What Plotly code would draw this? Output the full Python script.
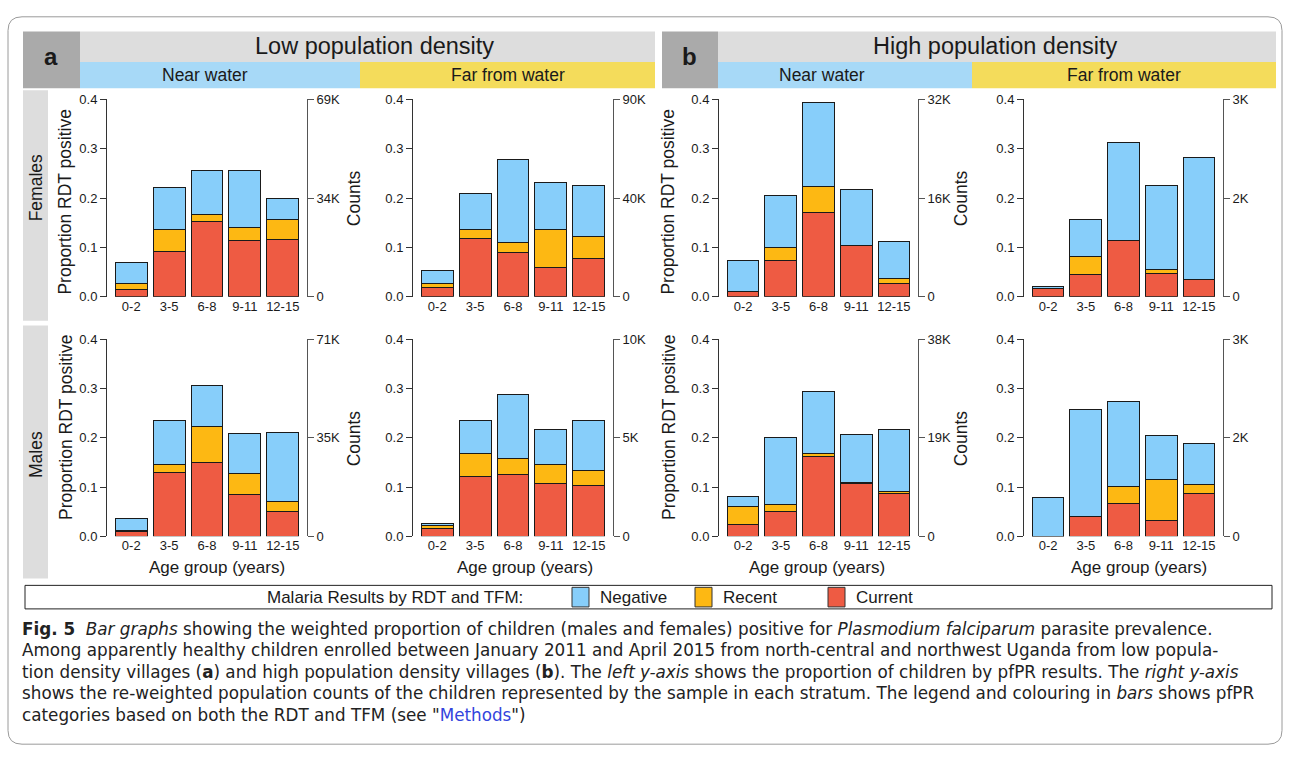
import plotly.graph_objects as go

# ---------------- data ----------------
age_groups = ["0-2", "3-5", "6-8", "9-11", "12-15"]
series_names = ["Negative", "Recent", "Current"]
legend_title = "Malaria Results by RDT and TFM:"

# (a) Low population density - Near water - Females
low_near_fem_current = [0.015, 0.091, 0.152, 0.114, 0.116]
low_near_fem_recent = [0.012, 0.045, 0.014, 0.026, 0.041]
low_near_fem_negative = [0.042, 0.086, 0.090, 0.117, 0.042]
low_near_fem_counts = ["0", "34K", "69K"]
# (a) Low population density - Far from water - Females
low_far_fem_current = [0.019, 0.118, 0.089, 0.059, 0.077]
low_far_fem_recent = [0.009, 0.018, 0.022, 0.078, 0.045]
low_far_fem_negative = [0.026, 0.073, 0.168, 0.095, 0.103]
low_far_fem_counts = ["0", "40K", "90K"]
# (b) High population density - Near water - Females
high_near_fem_current = [0.011, 0.074, 0.170, 0.104, 0.028]
high_near_fem_recent = [0.0, 0.026, 0.053, 0.0, 0.009]
high_near_fem_negative = [0.063, 0.105, 0.170, 0.113, 0.075]
high_near_fem_counts = ["0", "16K", "32K"]
# (b) High population density - Far from water - Females
high_far_fem_current = [0.016, 0.046, 0.114, 0.048, 0.036]
high_far_fem_recent = [0.0, 0.036, 0.0, 0.008, 0.0]
high_far_fem_negative = [0.006, 0.075, 0.199, 0.170, 0.246]
high_far_fem_counts = ["0", "2K", "3K"]
# (a) Low population density - Near water - Males
low_near_male_current = [0.009, 0.129, 0.149, 0.084, 0.051]
low_near_male_recent = [0.003, 0.017, 0.073, 0.043, 0.019]
low_near_male_negative = [0.025, 0.090, 0.085, 0.081, 0.141]
low_near_male_counts = ["0", "35K", "71K"]
# (a) Low population density - Far from water - Males
low_far_male_current = [0.015, 0.122, 0.126, 0.107, 0.104]
low_far_male_recent = [0.008, 0.047, 0.032, 0.038, 0.029]
low_far_male_negative = [0.004, 0.067, 0.129, 0.071, 0.103]
low_far_male_counts = ["0", "5K", "10K"]
# (b) High population density - Near water - Males
high_near_male_current = [0.024, 0.050, 0.162, 0.107, 0.087]
high_near_male_recent = [0.036, 0.014, 0.006, 0.003, 0.004]
high_near_male_negative = [0.021, 0.137, 0.126, 0.096, 0.126]
high_near_male_counts = ["0", "19K", "38K"]
# (b) High population density - Far from water - Males
high_far_male_current = [0.0, 0.040, 0.066, 0.033, 0.088]
high_far_male_recent = [0.0, 0.0, 0.035, 0.082, 0.017]
high_far_male_negative = [0.078, 0.217, 0.172, 0.089, 0.084]
high_far_male_counts = ["0", "2K", "3K"]

prop_ticks = [0.0, 0.1, 0.2, 0.3, 0.4]
count_tick_pos = [0.0, 0.2, 0.4]

# ---------------- style ----------------
W, H = 1290, 761
FONT = "Liberation Sans, Arial, Helvetica, sans-serif"
CAP_FONT = "DejaVu Sans, Liberation Sans, sans-serif"
COL_NEG = "#87CEFA"
COL_REC = "#FDB813"
COL_CUR = "#EE5B43"
series_colors = {"Negative": COL_NEG, "Recent": COL_REC, "Current": COL_CUR}
TXT = "#1a1a1a"


def fx(px):
    return px / W


def fy(py):
    return 1 - py / H


panels = [
    (low_near_fem_current, low_near_fem_recent, low_near_fem_negative, low_near_fem_counts),
    (low_far_fem_current, low_far_fem_recent, low_far_fem_negative, low_far_fem_counts),
    (high_near_fem_current, high_near_fem_recent, high_near_fem_negative, high_near_fem_counts),
    (high_far_fem_current, high_far_fem_recent, high_far_fem_negative, high_far_fem_counts),
    (low_near_male_current, low_near_male_recent, low_near_male_negative, low_near_male_counts),
    (low_far_male_current, low_far_male_recent, low_far_male_negative, low_far_male_counts),
    (high_near_male_current, high_near_male_recent, high_near_male_negative, high_near_male_counts),
    (high_far_male_current, high_far_male_recent, high_far_male_negative, high_far_male_counts),
]

cols_px = [(107, 307), (413, 613), (719, 918), (1024, 1223)]
rows_px = [(94.3, 295.7), (339, 540)]

fig = go.Figure()
layout = {}

for k, (cur, rec, neg, cnt) in enumerate(panels):
    r, c = divmod(k, 4)
    n = k + 1
    xref = "x" if n == 1 else f"x{n}"
    yref = "y" if n == 1 else f"y{n}"
    y2ref = f"y{n + 8}"
    for name, vals in (("Current", cur), ("Recent", rec), ("Negative", neg)):
        fig.add_trace(go.Bar(
            x=age_groups, y=vals, name=name, width=0.84,
            marker=dict(color=series_colors[name], line=dict(color="#1a1a1a", width=1)),
            xaxis=xref, yaxis=yref, showlegend=False,
        ))
    fig.add_trace(go.Scatter(
        x=[age_groups[0]], y=[0], mode="markers", marker=dict(opacity=0),
        xaxis=xref, yaxis=y2ref, showlegend=False, hoverinfo="skip",
    ))
    c0, c1 = cols_px[c]
    r0, r1 = rows_px[r]
    layout["xaxis" if n == 1 else f"xaxis{n}"] = dict(
        domain=[fx(c0), fx(c1)], anchor=yref, type="category",
        range=[-0.64, 4.64], showline=False, ticks="", showgrid=False,
        zeroline=False, tickfont=dict(size=13, color=TXT, family=FONT),
        fixedrange=True,
    )
    layout["yaxis" if n == 1 else f"yaxis{n}"] = dict(
        domain=[fy(r1), fy(r0)], anchor=xref, range=[0, 0.4],
        tickvals=prop_ticks, ticktext=[f"{v:.1f}" for v in prop_ticks],
        ticks="outside", ticklen=6, tickcolor="#333", showline=True,
        linecolor="#333", linewidth=1, showgrid=False, zeroline=False,
        tickfont=dict(size=13, color=TXT, family=FONT), fixedrange=True,
    )
    layout[f"yaxis{n + 8}"] = dict(
        overlaying=yref, side="right", anchor=xref, range=[0, 0.4],
        tickvals=count_tick_pos, ticktext=cnt,
        ticks="outside", ticklen=6, tickcolor="#555", showline=True,
        linecolor="#555", linewidth=1, showgrid=False, zeroline=False,
        tickfont=dict(size=13, color=TXT, family=FONT), fixedrange=True,
    )

shapes = []
annotations = []


def rect(x0, y0, x1, y1, fill, line=None):
    shapes.append(dict(
        type="rect", xref="paper", yref="paper",
        x0=fx(x0), x1=fx(x1), y0=fy(y1), y1=fy(y0),
        fillcolor=fill, line=dict(width=1 if line else 0, color=line or fill),
        layer="below",
    ))


def text(t, x, y, size, angle=0, xanchor="center", color=TXT, family=FONT):
    annotations.append(dict(
        text=t, x=fx(x), y=fy(y), xref="paper", yref="paper",
        showarrow=False, textangle=angle, xanchor=xanchor, yanchor="middle",
        font=dict(size=size, color=color, family=family),
    ))


# outer rounded frame
fx0, fy0, fx1, fy1, rr = 8, 10, 1282, 752, 14
path = (f"M {fx(fx0 + rr)},{fy(fy0)} L {fx(fx1 - rr)},{fy(fy0)} "
        f"Q {fx(fx1)},{fy(fy0)} {fx(fx1)},{fy(fy0 + rr)} "
        f"L {fx(fx1)},{fy(fy1 - rr)} Q {fx(fx1)},{fy(fy1)} {fx(fx1 - rr)},{fy(fy1)} "
        f"L {fx(fx0 + rr)},{fy(fy1)} Q {fx(fx0)},{fy(fy1)} {fx(fx0)},{fy(fy1 - rr)} "
        f"L {fx(fx0)},{fy(fy0 + rr)} Q {fx(fx0)},{fy(fy0)} {fx(fx0 + rr)},{fy(fy0)} Z")
shapes.append(dict(type="path", path=path, xref="paper", yref="paper",
                   line=dict(color="#9a9a9a", width=1), layer="below"))

# headers
rect(23, 25, 80, 83, "#AAAAAA")
rect(80, 25, 655, 56, "#DDDDDD")
rect(80, 56, 360, 83, "#A7D9F7")
rect(360, 56, 655, 83, "#F4DC5B")
rect(662, 25, 718, 83, "#AAAAAA")
rect(718, 25, 1276, 56, "#DDDDDD")
rect(718, 56, 972, 83, "#A7D9F7")
rect(972, 56, 1276, 83, "#F4DC5B")
text("<b>a</b>", 51, 50, 24)
text("<b>b</b>", 690, 50, 24)
text("Low population density", 374, 40, 23.5)
text("High population density", 995, 40, 23.5)
text("Near water", 205, 69.5, 17.5)
text("Far from water", 508, 69.5, 17.5)
text("Near water", 822, 69.5, 17.5)
text("Far from water", 1124, 69.5, 17.5)

# row strips
rect(23, 85, 48, 320, "#DDDDDD")
rect(23, 325, 48, 583, "#DDDDDD")
text("Females", 36, 185, 17.5, angle=-90)
text("Males", 36, 457, 17.5, angle=-90)

# axis titles
for yc in (199, 429):
    text("Proportion RDT positive", 65.5, yc, 17.5, angle=-90)
    text("Proportion RDT positive", 668.5, yc, 17.5, angle=-90)
for yc in (195, 440):
    text("Counts", 354, yc, 17.5, angle=-90)
    text("Counts", 961, yc, 17.5, angle=-90)
for xc in (217, 525, 817, 1139):
    text("Age group (years)", xc, 572, 17)

# legend box
rect(25, 590, 1272, 614, "rgba(0,0,0,0)", line="#222")
text(legend_title, 395, 602, 17)
legend_pos = {"Negative": 572, "Recent": 695, "Current": 828}
for name in series_names:
    x0 = legend_pos[name]
    shapes.append(dict(type="rect", xref="paper", yref="paper",
                       x0=fx(x0), x1=fx(x0 + 17), y0=fy(612), y1=fy(592),
                       fillcolor=series_colors[name], line=dict(color="#333", width=1)))
    text(name, x0 + 26, 602, 17, xanchor="left")

# caption
cap = [
    "<b>Fig. 5</b>  <i>Bar graphs</i> showing the weighted proportion of children (males and females) positive for <i>Plasmodium falciparum</i> parasite prevalence.",
    "Among apparently healthy children enrolled between January 2011 and April 2015 from north-central and northwest Uganda from low popula-",
    "tion density villages (<b>a</b>) and high population density villages (<b>b</b>). The <i>left y-axis</i> shows the proportion of children by pfPR results. The <i>right y-axis</i>",
    "shows the re-weighted population counts of the children represented by the sample in each stratum. The legend and colouring in <i>bars</i> shows pfPR",
    "categories based on both the RDT and TFM (see \"<span style='color:#3344dd'>Methods</span>\")",
]
for i, line in enumerate(cap):
    text(line, 20, 634 + 22 * i, 16.8, xanchor="left", color="#222", family=CAP_FONT)

fig.update_layout(
    width=W, height=H, margin=dict(l=0, r=0, t=0, b=0),
    paper_bgcolor="white", plot_bgcolor="rgba(0,0,0,0)",
    barmode="stack", bargap=0.16, showlegend=False,
    font=dict(family=FONT, color=TXT),
    shapes=shapes, annotations=annotations, **layout,
)

fig.write_html("out.html", config={"displayModeBar": False},
               post_script="document.body.style.margin='0';document.body.style.overflow='hidden';")
